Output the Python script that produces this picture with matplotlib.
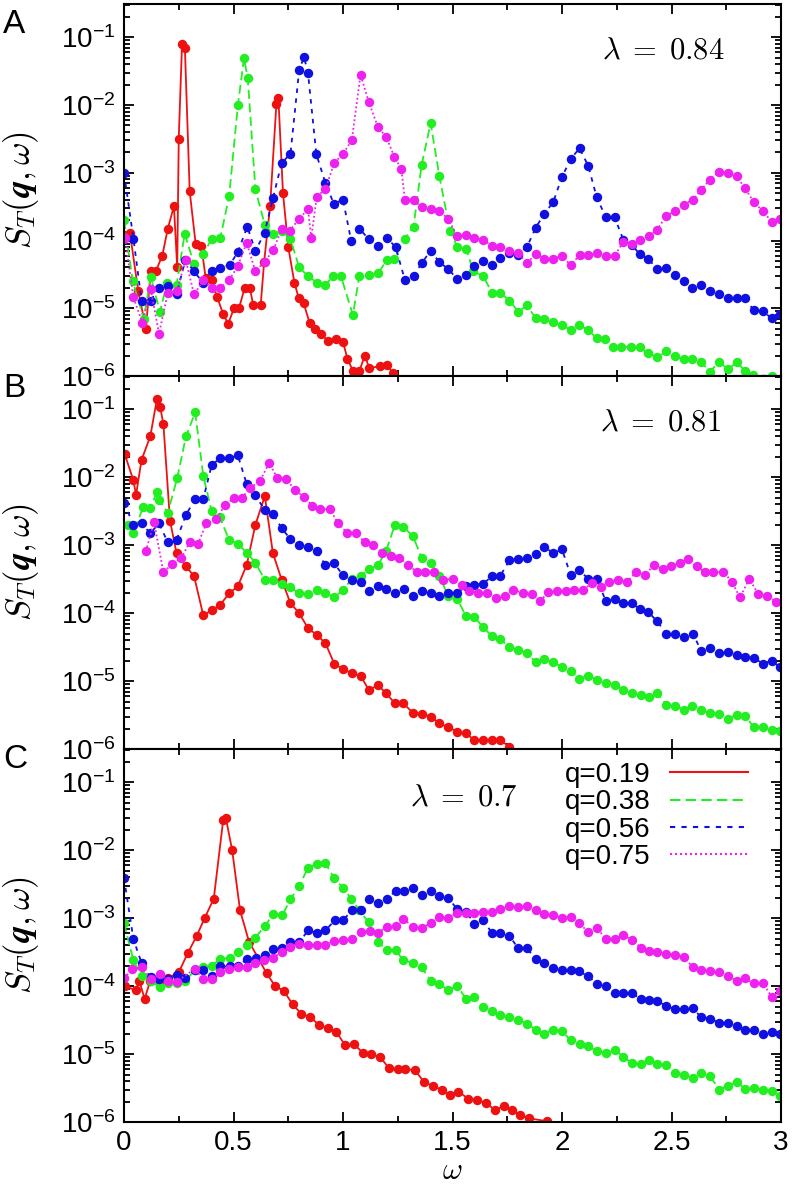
import matplotlib
matplotlib.use("Agg")
import matplotlib.pyplot as plt
from matplotlib.lines import Line2D
from matplotlib.ticker import LogLocator, MultipleLocator, FormatStrFormatter, NullFormatter

plt.rcParams['font.family'] = ['Liberation Sans', 'DejaVu Sans']
plt.rcParams['axes.unicode_minus'] = False

# ---------------- data (omega, S_T) ----------------
# Panel A, lambda = 0.84
wA_r = [0.0, 0.027, 0.065, 0.10, 0.122, 0.145, 0.175, 0.20, 0.228, 0.243, 0.25, 0.265, 0.278, 0.30, 0.327, 0.353,
        0.373, 0.40, 0.426, 0.452, 0.476, 0.502, 0.525, 0.551, 0.575, 0.59, 0.624, 0.64, 0.667, 0.696, 0.705, 0.726,
        0.75, 0.778, 0.798, 0.82, 0.848, 0.874, 0.90, 0.93, 0.97, 1.0, 1.02, 1.045, 1.075, 1.10, 1.12, 1.167, 1.20,
        1.23, 1.26]
SA_r = [1.2e-4, 1.3e-4, 1.8e-5, 5e-6, 3.5e-5, 3.5e-5, 6e-5, 1.5e-4, 3.2e-4, 4e-5, 3.2e-3, 8e-2, 7e-2, 5.3e-4, 9e-5, 8.3e-5,
        2.8e-5, 2.6e-5, 1.45e-5, 8.3e-6, 5.9e-6, 1e-5, 1e-5, 2e-5, 2e-5, 1.1e-5, 1.1e-5, 4.9e-5, 3.2e-4, 1.05e-2, 1.25e-2, 5e-4,
        8e-5, 2.4e-5, 1.4e-5, 1.2e-5, 6e-6, 5e-6, 4.2e-6, 3.3e-6, 3.5e-6, 3.2e-6, 1.8e-6, 1.2e-6, 1.2e-6, 2e-6, 1.3e-6, 1.4e-6, 1.45e-6,
        1.1e-6, 8e-7]

wA_g = [0.0, 0.04, 0.09, 0.122, 0.164, 0.198, 0.24, 0.277, 0.32, 0.362, 0.40, 0.44, 0.48, 0.52, 0.548, 0.565, 0.60, 0.643,
        0.68, 0.72, 0.76, 0.80, 0.84, 0.88, 0.92, 0.955, 0.99, 1.045, 1.075, 1.12, 1.16, 1.20, 1.235, 1.283, 1.322, 1.359,
        1.40, 1.44, 1.488, 1.522, 1.562, 1.595, 1.64, 1.68, 1.717, 1.76, 1.80, 1.84, 1.88, 1.92, 1.96, 2.0, 2.04, 2.078,
        2.12, 2.158, 2.196, 2.234, 2.27, 2.315, 2.355, 2.393, 2.434, 2.476, 2.514, 2.555, 2.595, 2.635, 2.675, 2.718,
        2.76, 2.797, 2.835, 2.873, 2.957, 3.0]
SA_g = [2e-4, 2.5e-5, 7e-6, 2.9e-5, 8.9e-6, 2.4e-5, 2.2e-5, 1.26e-4, 4.5e-5, 6.3e-5, 1.05e-4, 1.1e-4, 4.5e-4, 1e-2, 4.9e-2, 2.5e-2, 5.7e-4, 1.7e-4,
        1.25e-4, 1.4e-4, 1.05e-4, 4e-5, 3e-5, 2.4e-5, 2.2e-5, 3e-5, 3e-5, 8e-6, 3e-5, 3.1e-5, 3.3e-5, 5.1e-5, 5.4e-5, 1.07e-4, 1.6e-4, 1.3e-3,
        5.4e-3, 9e-4, 1.4e-4, 8.1e-5, 7.6e-5, 3.5e-5, 3e-5, 1.7e-5, 1.7e-5, 1.3e-5, 8.9e-6, 1.1e-5, 7.1e-6, 6.9e-6, 6.2e-6, 5.6e-6, 4.8e-6, 5.6e-6,
        4.8e-6, 3.6e-6, 3.5e-6, 2.7e-6, 2.7e-6, 2.7e-6, 2.7e-6, 2.16e-6, 1.9e-6, 2.3e-6, 2.0e-6, 1.76e-6, 1.8e-6, 1.6e-6, 1.16e-6, 1.6e-6,
        1.25e-6, 1.6e-6, 1.2e-6, 1.03e-6, 1.0e-6, 9e-7]

wA_b = [0.0, 0.043, 0.08, 0.122, 0.16, 0.20, 0.24, 0.28, 0.32, 0.36, 0.40, 0.44, 0.484, 0.52, 0.563, 0.60, 0.642, 0.68,
        0.72, 0.76, 0.80, 0.822, 0.84, 0.878, 0.92, 0.958, 1.0, 1.037, 1.075, 1.117, 1.16, 1.20, 1.24, 1.283, 1.322, 1.359,
        1.40, 1.44, 1.48, 1.522, 1.562, 1.598, 1.64, 1.68, 1.717, 1.76, 1.80, 1.84, 1.88, 1.92, 1.96, 2.0, 2.04, 2.08,
        2.12, 2.158, 2.20, 2.24, 2.28, 2.32, 2.355, 2.393, 2.434, 2.474, 2.514, 2.555, 2.595, 2.635, 2.675, 2.718,
        2.76, 2.797, 2.835, 2.876, 2.918, 2.957, 2.994]
SA_b = [1e-3, 1.07e-4, 1.3e-5, 1.3e-5, 2e-5, 2.1e-5, 1.6e-5, 5.2e-5, 3.5e-5, 2.4e-5, 3.6e-5, 3.9e-5, 4.4e-5, 6.8e-5, 1.6e-4, 7e-5, 1.3e-4, 4.2e-4,
        1.4e-3, 1.9e-3, 3.3e-2, 5.1e-2, 3e-2, 1.9e-3, 7e-4, 3.5e-4, 4e-4, 1e-4, 1.5e-4, 1.05e-4, 8.3e-5, 1.1e-4, 8e-5, 2.6e-5, 3e-5, 4.6e-5,
        7.1e-5, 4.8e-5, 3.8e-5, 2.7e-5, 3.1e-5, 4.2e-5, 5e-5, 4.4e-5, 5.5e-5, 6.5e-5, 6.1e-5, 8e-5, 1.55e-4, 2.5e-4, 3.7e-4, 8.7e-4, 1.6e-3, 2.3e-3,
        1.26e-3, 4.4e-4, 2.2e-4, 2.2e-4, 1.03e-4, 8.5e-5, 6.3e-5, 5.4e-5, 3.8e-5, 3.9e-5, 3.1e-5, 2.5e-5, 2e-5, 2.2e-5, 1.8e-5, 1.6e-5,
        1.4e-5, 1.4e-5, 1.4e-5, 9.3e-6, 9e-6, 7.1e-6, 8.2e-6]

wA_m = [0.005, 0.043, 0.084, 0.122, 0.16, 0.20, 0.24, 0.282, 0.32, 0.362, 0.40, 0.44, 0.48, 0.52, 0.56, 0.60, 0.642, 0.682,
        0.72, 0.757, 0.80, 0.84, 0.855, 0.88, 0.92, 0.96, 1.0, 1.04, 1.08, 1.118, 1.16, 1.197, 1.235, 1.266, 1.283, 1.322,
        1.359, 1.40, 1.44, 1.48, 1.522, 1.562, 1.598, 1.64, 1.68, 1.717, 1.76, 1.80, 1.84, 1.88, 1.92, 1.96, 2.0, 2.04,
        2.08, 2.12, 2.158, 2.20, 2.24, 2.28, 2.32, 2.355, 2.395, 2.434, 2.476, 2.514, 2.555, 2.598, 2.635, 2.675, 2.718,
        2.76, 2.797, 2.835, 2.876, 2.918, 2.957, 2.995]
SA_m = [1.1e-4, 1.45e-5, 6.1e-6, 1.9e-5, 4.2e-6, 1.7e-5, 1.8e-5, 5.1e-5, 1.6e-5, 2.6e-5, 2.0e-5, 2e-5, 2.6e-5, 4.2e-5, 9.3e-5, 3.5e-5, 4.9e-5, 7.2e-5,
        1.5e-4, 1.4e-4, 2.1e-4, 2.9e-4, 1.1e-4, 4.4e-4, 5.8e-4, 1.4e-3, 1.9e-3, 3e-3, 2.8e-2, 1.1e-2, 4.7e-3, 3.4e-3, 1.7e-3, 1.15e-3, 4e-4, 4e-4,
        3.1e-4, 2.9e-4, 2.7e-4, 2.1e-4, 1.15e-4, 1.2e-4, 1.1e-4, 1.03e-4, 8.3e-5, 7.9e-5, 7.1e-5, 6.5e-5, 4.6e-5, 6.4e-5, 5.4e-5, 5.4e-5, 5.9e-5, 4.3e-5,
        6.1e-5, 6.2e-5, 6.6e-5, 5.9e-5, 5.9e-5, 9.6e-5, 9e-5, 1.03e-4, 1.15e-4, 1.45e-4, 2.3e-4, 2.7e-4, 3.4e-4, 4e-4, 5.6e-4, 7.9e-4, 1.03e-3,
        9.8e-4, 9e-4, 5.9e-4, 3.7e-4, 2.7e-4, 1.9e-4, 2.05e-4]

# Panel B, lambda = 0.81
wB_r = [0.003, 0.043, 0.055, 0.08, 0.12, 0.15, 0.165, 0.18, 0.21, 0.24, 0.283, 0.32, 0.362, 0.40, 0.437, 0.48, 0.52, 0.56,
        0.60, 0.643, 0.68, 0.72, 0.76, 0.80, 0.84, 0.88, 0.92, 0.96, 1.0, 1.04, 1.08, 1.118, 1.16, 1.197, 1.237, 1.275,
        1.32, 1.359, 1.40, 1.44, 1.48, 1.522, 1.562, 1.598, 1.64, 1.68, 1.717, 1.76, 1.80]
SB_r = [2.2e-2, 9e-3, 5.5e-3, 1.8e-2, 4e-2, 1.4e-1, 1.1e-1, 6e-2, 2.3e-3, 7.6e-4, 4.9e-4, 3.5e-4, 9.3e-5, 1.1e-4, 1.3e-4, 1.95e-4, 2.5e-4, 5.1e-4,
        2e-3, 5.3e-3, 7.6e-4, 3.1e-4, 1.4e-4, 1e-4, 6e-5, 4.8e-5, 3.6e-5, 1.8e-5, 1.5e-5, 1.3e-5, 1.2e-5, 7.4e-6, 8.7e-6, 6.6e-6, 4.7e-6, 4.7e-6,
        3.4e-6, 3.3e-6, 3e-6, 2.4e-6, 2.1e-6, 1.8e-6, 1.7e-6, 1.36e-6, 1.36e-6, 1.36e-6, 1.36e-6, 1.08e-6, 8e-7]

wB_g = [0.02, 0.043, 0.088, 0.12, 0.15, 0.16, 0.20, 0.243, 0.283, 0.325, 0.362, 0.40, 0.437, 0.48, 0.52, 0.56, 0.60, 0.643,
        0.68, 0.72, 0.76, 0.80, 0.84, 0.88, 0.92, 0.96, 1.0, 1.04, 1.08, 1.118, 1.16, 1.197, 1.237, 1.275, 1.32, 1.359,
        1.40, 1.44, 1.48, 1.522, 1.562, 1.598, 1.64, 1.68, 1.717, 1.76, 1.80, 1.84, 1.88, 1.918, 1.96, 2.0, 2.04, 2.078,
        2.12, 2.16, 2.20, 2.24, 2.28, 2.32, 2.36, 2.395, 2.434, 2.476, 2.514, 2.555, 2.595, 2.635, 2.675, 2.718, 2.76,
        2.797, 2.835, 2.876, 2.918, 2.957, 2.995]
SB_g = [2e-3, 1.5e-3, 3.7e-3, 3.5e-3, 6e-3, 4.7e-3, 3e-3, 9.8e-3, 4e-2, 9e-2, 1.05e-2, 3.2e-3, 2.6e-3, 1.2e-3, 1.05e-3, 7.8e-4, 5.5e-4, 3.1e-4,
        3.1e-4, 2.7e-4, 2.4e-4, 1.95e-4, 1.9e-4, 2.2e-4, 2e-4, 1.7e-4, 2.2e-4, 3.2e-4, 3.5e-4, 4.4e-4, 5.1e-4, 8.3e-4, 2e-3, 1.87e-3, 1.35e-3, 6.5e-4,
        5.5e-4, 3.5e-4, 1.8e-4, 1.6e-4, 9e-5, 8.9e-5, 6.2e-5, 4.6e-5, 4.1e-5, 3.2e-5, 2.9e-5, 2.6e-5, 1.9e-5, 2.1e-5, 1.9e-5, 1.6e-5, 1.4e-5, 1.07e-5,
        1.2e-5, 1.03e-5, 9.5e-6, 8.9e-6, 7.4e-6, 6.6e-6, 6.2e-6, 5.8e-6, 6.6e-6, 4.5e-6, 4.3e-6, 3.8e-6, 4.3e-6, 3.7e-6, 3.4e-6, 3.3e-6, 2.8e-6,
        3.2e-6, 3.1e-6, 2.1e-6, 2.1e-6, 1.9e-6, 1.86e-6]

wB_b = [0.0, 0.043, 0.08, 0.12, 0.16, 0.20, 0.24, 0.283, 0.325, 0.362, 0.40, 0.437, 0.48, 0.52, 0.56, 0.60, 0.643, 0.68,
        0.72, 0.76, 0.80, 0.84, 0.88, 0.92, 0.96, 1.0, 1.04, 1.08, 1.118, 1.16, 1.197, 1.237, 1.278, 1.32, 1.359, 1.40,
        1.44, 1.48, 1.522, 1.562, 1.598, 1.64, 1.68, 1.717, 1.76, 1.80, 1.84, 1.88, 1.92, 1.96, 2.0, 2.04, 2.078, 2.12,
        2.16, 2.20, 2.24, 2.28, 2.32, 2.355, 2.393, 2.434, 2.476, 2.514, 2.555, 2.598, 2.635, 2.675, 2.718, 2.76, 2.797,
        2.835, 2.876, 2.918, 2.957, 2.995]
SB_b = [4.2e-3, 2e-3, 2.1e-3, 1.5e-3, 2.1e-3, 1.1e-3, 1.2e-3, 2.8e-3, 4.8e-3, 4.8e-3, 1.5e-2, 1.9e-2, 1.9e-2, 2.1e-2, 8e-3, 5.4e-3, 3.3e-3, 2.9e-3,
        1.78e-3, 1.23e-3, 1.0e-3, 9.5e-4, 8.1e-4, 5.1e-4, 5.4e-4, 3.6e-4, 3.1e-4, 2.9e-4, 2.1e-4, 2.5e-4, 2.3e-4, 2e-4, 2.3e-4, 1.8e-4, 2.15e-4, 2e-4,
        1.8e-4, 2.0e-4, 2e-4, 2.5e-4, 2.6e-4, 2.7e-4, 3.5e-4, 3.5e-4, 6e-4, 6.2e-4, 6.4e-4, 7.4e-4, 9.5e-4, 7.6e-4, 8.7e-4, 3.6e-4, 4.3e-4, 3.2e-4,
        3.2e-4, 1.5e-4, 1.6e-4, 1.4e-4, 1.4e-4, 1.15e-4, 1.05e-4, 7.6e-5, 5e-5, 5e-5, 4.4e-5, 5e-5, 2.8e-5, 3.1e-5, 2.6e-5, 2.7e-5, 2.4e-5,
        2.3e-5, 2.2e-5, 1.8e-5, 2.0e-5, 1.6e-5]

wB_m = [0.10, 0.137, 0.18, 0.22, 0.26, 0.30, 0.338, 0.376, 0.42, 0.461, 0.50, 0.537, 0.575, 0.621, 0.663, 0.70, 0.74, 0.78,
        0.82, 0.86, 0.897, 0.94, 0.978, 1.02, 1.06, 1.10, 1.138, 1.18, 1.217, 1.255, 1.298, 1.336, 1.374, 1.415, 1.458,
        1.501, 1.542, 1.577, 1.618, 1.659, 1.699, 1.74, 1.778, 1.82, 1.862, 1.90, 1.938, 1.976, 2.017, 2.055, 2.097,
        2.135, 2.178, 2.216, 2.257, 2.298, 2.338, 2.379, 2.42, 2.46, 2.496, 2.539, 2.577, 2.615, 2.653, 2.691, 2.737,
        2.775, 2.813, 2.855, 2.897, 2.935, 2.977]
SB_m = [8.1e-4, 2.2e-3, 4e-4, 5.3e-4, 6.4e-4, 1.1e-3, 1.05e-3, 2.1e-3, 2.4e-3, 3.9e-3, 4.9e-3, 4.9e-3, 6.9e-3, 8.9e-3, 1.62e-2, 9.8e-3, 9.5e-3, 6.5e-3,
        5.2e-3, 3.8e-3, 3.4e-3, 3.4e-3, 2.1e-3, 1.5e-3, 1.5e-3, 1.1e-3, 1.0e-3, 7.7e-4, 6.9e-4, 6.5e-4, 5.2e-4, 4e-4, 4e-4, 4e-4, 3.1e-4,
        3.2e-4, 2.6e-4, 2.1e-4, 2e-4, 2e-4, 1.66e-4, 1.8e-4, 2.2e-4, 2e-4, 1.9e-4, 1.5e-4, 2.05e-4, 2.1e-4, 2.1e-4, 2.2e-4, 2.2e-4,
        2.75e-4, 2.4e-4, 2.9e-4, 3.1e-4, 2.9e-4, 4e-4, 3.6e-4, 5.2e-4, 4.4e-4, 4.9e-4, 5.5e-4, 6.2e-4, 4.9e-4, 4e-4, 4e-4, 4.1e-4,
        2.9e-4, 1.7e-4, 3.2e-4, 1.9e-4, 1.8e-4, 1.48e-4]

# Panel C, lambda = 0.7
wC_r = [0.005, 0.053, 0.07, 0.094, 0.12, 0.164, 0.20, 0.25, 0.292, 0.332, 0.368, 0.41, 0.453, 0.465, 0.494, 0.53, 0.571,
        0.651, 0.69, 0.73, 0.77, 0.81, 0.85, 0.89, 0.93, 0.97, 1.01, 1.05, 1.09, 1.13, 1.17, 1.21, 1.25, 1.283, 1.328,
        1.37, 1.41, 1.45, 1.488, 1.527, 1.572, 1.613, 1.653, 1.694, 1.733, 1.77, 1.808, 1.85, 1.93, 1.97]
SC_r = [1e-4, 8.7e-5, 1.2e-4, 6.5e-5, 1.2e-4, 1.2e-4, 1.3e-4, 1.6e-4, 3.1e-4, 5.5e-4, 1e-3, 1.95e-3, 2.8e-2, 3e-2, 1e-2, 1.3e-3, 4.5e-4,
        1.55e-4, 1e-4, 8.5e-5, 5.4e-5, 3.9e-5, 3.5e-5, 2.7e-5, 2.4e-5, 2.1e-5, 1.35e-5, 1.4e-5, 1.05e-5, 1.0e-5, 9e-6, 6.2e-6, 6e-6, 6e-6, 5.8e-6,
        3.9e-6, 3.4e-6, 3e-6, 2.5e-6, 2.8e-6, 2.2e-6, 2.1e-6, 1.9e-6, 1.5e-6, 1.7e-6, 1.5e-6, 1.27e-6, 1.13e-6, 1.03e-6, 8e-7]

wC_g = [0.0, 0.043, 0.08, 0.122, 0.164, 0.20, 0.243, 0.28, 0.323, 0.36, 0.40, 0.44, 0.484, 0.52, 0.56, 0.60, 0.642, 0.682,
        0.723, 0.76, 0.80, 0.84, 0.88, 0.92, 0.96, 1.0, 1.037, 1.075, 1.117, 1.16, 1.20, 1.24, 1.275, 1.32, 1.359, 1.40,
        1.44, 1.48, 1.522, 1.562, 1.598, 1.64, 1.68, 1.717, 1.76, 1.80, 1.84, 1.88, 1.92, 1.96, 2.0, 2.04, 2.08, 2.12,
        2.16, 2.20, 2.24, 2.28, 2.32, 2.36, 2.395, 2.434, 2.476, 2.514, 2.555, 2.598, 2.635, 2.676, 2.718, 2.76, 2.797,
        2.835, 2.876, 2.918, 2.957, 2.995]
SC_g = [8.5e-4, 2.4e-4, 1.4e-4, 1.2e-4, 9.6e-5, 1.1e-4, 1.1e-4, 1.2e-4, 1.7e-4, 1.9e-4, 2e-4, 2.5e-4, 2.6e-4, 3.2e-4, 4e-4, 5.2e-4, 7.6e-4, 1.15e-3,
        1.1e-3, 1.9e-3, 3e-3, 5.5e-3, 6.3e-3, 6.4e-3, 3.9e-3, 2.8e-3, 1.95e-3, 1.3e-3, 8.7e-4, 4.5e-4, 3.4e-4, 3.4e-4, 2.4e-4, 2.2e-4, 1.9e-4, 1.2e-4,
        1.08e-4, 8.8e-5, 1e-4, 6.5e-5, 6.9e-5, 5e-5, 4.3e-5, 3.7e-5, 3.5e-5, 3.2e-5, 2.8e-5, 2.3e-5, 2e-5, 2.3e-5, 2.15e-5, 1.6e-5, 1.4e-5, 1.3e-5,
        1.1e-5, 1.05e-5, 1.15e-5, 9.2e-6, 7.3e-6, 7.1e-6, 8.3e-6, 7.1e-6, 6.9e-6, 5.2e-6, 4.9e-6, 4.5e-6, 5.3e-6, 4.7e-6, 3e-6, 3.4e-6, 3.9e-6,
        3.1e-6, 3.2e-6, 3e-6, 2.9e-6, 2.4e-6]

wC_b = [0.0, 0.043, 0.08, 0.122, 0.16, 0.20, 0.24, 0.28, 0.323, 0.362, 0.40, 0.44, 0.484, 0.52, 0.563, 0.605, 0.642, 0.682,
        0.723, 0.76, 0.80, 0.84, 0.88, 0.92, 0.962, 1.0, 1.04, 1.08, 1.12, 1.16, 1.20, 1.24, 1.278, 1.32, 1.359, 1.40,
        1.44, 1.48, 1.522, 1.562, 1.60, 1.64, 1.68, 1.717, 1.76, 1.80, 1.84, 1.88, 1.92, 1.96, 2.0, 2.04, 2.078, 2.12,
        2.16, 2.20, 2.24, 2.28, 2.32, 2.36, 2.395, 2.434, 2.476, 2.514, 2.555, 2.598, 2.635, 2.676, 2.718, 2.76, 2.797,
        2.835, 2.876, 2.918, 2.957, 2.995]
SC_b = [3.9e-3, 4.9e-4, 2.2e-4, 1.35e-4, 1.26e-4, 1.26e-4, 1.47e-4, 1.3e-4, 1.7e-4, 1.7e-4, 1.4e-4, 1.95e-4, 1.95e-4, 2e-4, 2.5e-4, 2.6e-4, 2.9e-4, 3.5e-4,
        3.6e-4, 4.5e-4, 4.4e-4, 6.6e-4, 6.1e-4, 6.6e-4, 9.3e-4, 9.3e-4, 1.3e-3, 1.3e-3, 1.9e-3, 1.7e-3, 1.95e-3, 2.5e-3, 2.5e-3, 2.75e-3, 2.2e-3, 2.5e-3,
        2.1e-3, 2.0e-3, 1.35e-3, 1.25e-3, 8.3e-4, 9.3e-4, 6.1e-4, 6e-4, 5.5e-4, 3.6e-4, 3.6e-4, 2.5e-4, 2.2e-4, 1.85e-4, 1.75e-4, 1.7e-4, 1.65e-4, 1.4e-4,
        1.07e-4, 1e-4, 8e-5, 7.9e-5, 7.9e-5, 6.4e-5, 6.3e-5, 6.1e-5, 5.1e-5, 4.6e-5, 4.6e-5, 4.7e-5, 3.5e-5, 3.3e-5, 2.9e-5, 2.9e-5, 2.6e-5,
        2.3e-5, 2.3e-5, 2e-5, 2.1e-5, 2.0e-5]

wC_m = [0.0, 0.038, 0.084, 0.122, 0.164, 0.20, 0.24, 0.323, 0.362, 0.40, 0.44, 0.48, 0.52, 0.56, 0.60, 0.64, 0.68, 0.72,
        0.76, 0.80, 0.84, 0.88, 0.92, 0.96, 1.0, 1.04, 1.08, 1.123, 1.16, 1.20, 1.24, 1.275, 1.32, 1.359, 1.40, 1.44,
        1.48, 1.52, 1.562, 1.598, 1.64, 1.68, 1.717, 1.76, 1.80, 1.84, 1.88, 1.92, 1.96, 2.0, 2.04, 2.078, 2.12, 2.16,
        2.20, 2.24, 2.28, 2.32, 2.36, 2.395, 2.434, 2.476, 2.514, 2.555, 2.598, 2.635, 2.676, 2.718, 2.76, 2.797, 2.835,
        2.876, 2.918, 2.957, 2.995]
SC_m = [1.3e-4, 1.8e-4, 1.9e-4, 1.26e-4, 1.5e-4, 1.2e-4, 1.16e-4, 1.8e-4, 1.26e-4, 1.26e-4, 1.6e-4, 1.8e-4, 1.9e-4, 1.9e-4, 2.2e-4, 2.4e-4, 2.6e-4, 3.2e-4,
        3.8e-4, 4.2e-4, 4.1e-4, 4.1e-4, 4.1e-4, 4.6e-4, 4.7e-4, 4.9e-4, 6.3e-4, 6.5e-4, 6.1e-4, 7.5e-4, 7.7e-4, 9.8e-4, 7.5e-4, 7.1e-4, 8.5e-4, 1.05e-3,
        1e-3, 1.2e-3, 1.2e-3, 1.2e-3, 1.25e-3, 1.25e-3, 1.35e-3, 1.5e-3, 1.45e-3, 1.5e-3, 1.3e-3, 1.15e-3, 1.1e-3, 1.0e-3, 1.05e-3, 8.4e-4, 6.3e-4, 7.1e-4,
        5e-4, 5e-4, 5.6e-4, 4.8e-4, 3.7e-4, 3.3e-4, 3.2e-4, 3.0e-4, 2.9e-4, 2.7e-4, 1.9e-4, 1.75e-4, 1.65e-4, 1.6e-4, 1.4e-4, 1.2e-4, 1.3e-4,
        1.1e-4, 1.1e-4, 7e-5, 8.5e-5]

q_labels = ["q=0.19", "q=0.38", "q=0.56", "q=0.75"]
lambda_labels = [r"$\lambda\;=\;0.84$", r"$\lambda\;=\;0.81$", r"$\lambda\;=\;0.7$"]
ylabel_text = r"$S_T(\boldsymbol{q},\omega)$"
panel_letters = ["A", "B", "C"]
x_ticks = [0, 0.5, 1, 1.5, 2, 2.5, 3]

panels = [
    [(wA_r, SA_r), (wA_g, SA_g), (wA_b, SA_b), (wA_m, SA_m)],
    [(wB_r, SB_r), (wB_g, SB_g), (wB_b, SB_b), (wB_m, SB_m)],
    [(wC_r, SC_r), (wC_g, SC_g), (wC_b, SC_b), (wC_m, SC_m)],
]

# ---------------- styling ----------------
colors = ['#ee1111', '#22ee22', '#1010e0', '#ee22ee']
dashes = [None, (5, 2.5), (2.5, 3), (1, 1.4)]
W, H = 793, 1190
left_px, right_px = 124, 781
panel_px = [(4, 376), (376, 749), (749, 1122)]
lam_pos = [(0.727, 0.876), (0.724, 0.876), (0.435, 0.871)]
letter_y = [9, 373, 744]

fig = plt.figure(figsize=(W / 100, H / 100), dpi=100)
axes = []
for i, (top, bot) in enumerate(panel_px):
    ax = fig.add_axes([left_px / W, 1 - bot / H, (right_px - left_px) / W, (bot - top) / H])
    axes.append(ax)
    for k, (w, s) in enumerate(panels[i]):
        ln, = ax.plot(w, s, color=colors[k], lw=1.3, marker='o', ms=6.8, mec='none',
                      mfc=colors[k], clip_on=True)
        if dashes[k] is not None:
            ln.set_dashes(dashes[k])
    ax.set_yscale('log')
    ax.set_xlim(0, 3)
    ax.set_ylim(1e-6, 0.31)
    ax.yaxis.set_major_locator(LogLocator(base=10, numticks=20))
    ax.yaxis.set_minor_locator(LogLocator(base=10, subs=range(2, 10), numticks=20))
    ax.yaxis.set_minor_formatter(NullFormatter())
    ax.xaxis.set_major_locator(MultipleLocator(0.5))
    ax.xaxis.set_minor_locator(MultipleLocator(0.25))
    ax.tick_params(which='both', direction='in', top=True, right=True, width=1.3)
    ax.tick_params(which='major', length=7, labelsize=20, pad=6)
    ax.tick_params(which='minor', length=4)
    for sp in ax.spines.values():
        sp.set_linewidth(1.5)
    if i < 2:
        ax.tick_params(labelbottom=False)
    else:
        ax.set_xticks(x_ticks)
        ax.xaxis.set_major_formatter(FormatStrFormatter('%g'))
        ax.set_xlabel(r"$\omega$", fontsize=22, math_fontfamily='cm', labelpad=0)
    yc = 1 - (top + bot) / 2 / H
    fig.text(21 / W, yc, ylabel_text, rotation=90, ha='center', va='center',
             fontsize=25, math_fontfamily='cm')
    ax.text(lam_pos[i][0], lam_pos[i][1], lambda_labels[i], transform=ax.transAxes,
            fontsize=22, math_fontfamily='cm', ha='left', va='center')
    fig.text(3 / W, 1 - letter_y[i] / H, panel_letters[i], fontsize=24, ha='left', va='top')

handles = [Line2D([], [], color=colors[k], lw=1.5) for k in range(4)]
for k in range(1, 4):
    handles[k].set_dashes(dashes[k])
axes[2].legend(handles, q_labels, loc='upper right', bbox_to_anchor=(0.95, 0.965), frameon=False,
               markerfirst=False, fontsize=20, handlelength=2.8, handletextpad=0.7,
               labelspacing=0.05, borderpad=0, borderaxespad=0)

fig.savefig("out.png", dpi=100)
